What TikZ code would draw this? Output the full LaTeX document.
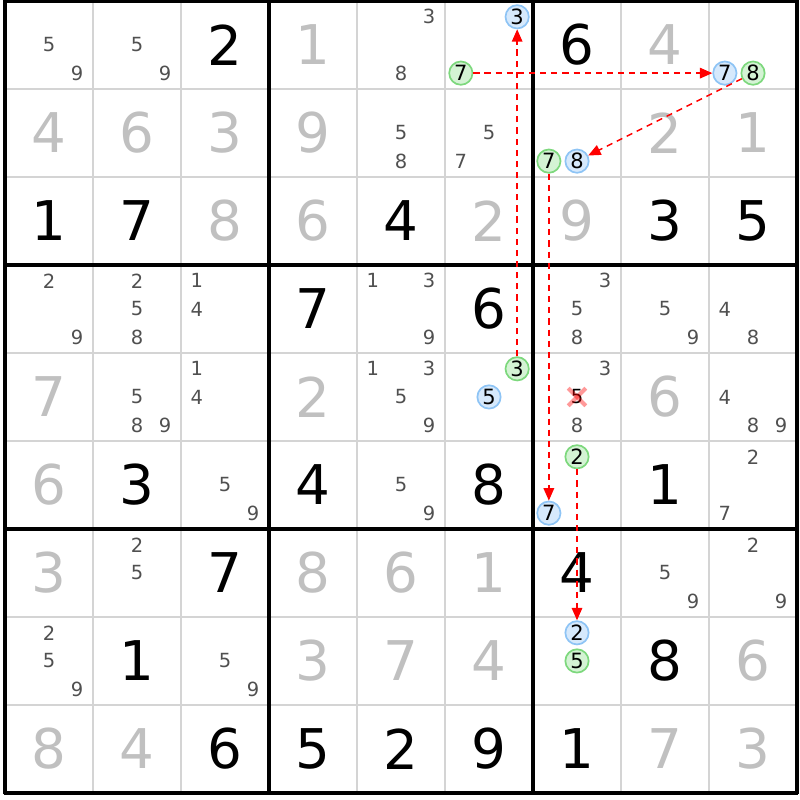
\documentclass[tikz,border=0pt]{standalone}
\usepackage{fontspec}
\setmainfont{DejaVu Sans}
\usetikzlibrary{arrows.meta}
\definecolor{solvedgray}{RGB}{192,192,192}
\definecolor{candgray}{RGB}{80,80,80}
\definecolor{gridgray}{RGB}{212,212,212}
\definecolor{onfill}{RGB}{214,233,252}
\definecolor{ondraw}{RGB}{142,196,245}
\definecolor{offfill}{RGB}{212,243,212}
\definecolor{offdraw}{RGB}{125,216,125}
\tikzset{
	given/.style={font=\fontsize{17.7}{20}\selectfont, text=black, inner sep=0pt},
	solved/.style={given, text=solvedgray},
	cand/.style={font=\fontsize{6.3}{7}\selectfont, text=candgray, inner sep=0pt},
	oncand/.style={circle, draw=ondraw, fill=onfill, line width=0.55pt, minimum size=0.265cm, inner sep=0pt, font=\fontsize{6.8}{7}\selectfont},
	offcand/.style={oncand, draw=offdraw, fill=offfill},
	link/.style={->, red, dash pattern=on 2pt off 1.6pt, line width=0.45pt},
	crossmark/.style={red, opacity=0.4, line width=1.3pt}
}

\begin{document}
\begin{tikzpicture}[>={Triangle[length=4pt,width=3.4pt]}]
	\useasboundingbox (-0.057,-0.08) rectangle (9.034,9.011);
	%Griglia
	\foreach \i in {1,2,4,5,7,8}
	{\draw [gridgray, line width=0.65pt] (\i,0) -- (\i,9);
	 \draw [gridgray, line width=0.65pt] (0,\i) -- (9,\i);}
	\foreach \i in {0,3,6,9}
	{\draw [line width=1.1pt] (\i,-0.015) -- (\i,9.015);
	 \draw [line width=1.1pt] (-0.015,\i) -- (9.015,\i);}
	%Dati
	\foreach \r/\c/\v in {1/3/2, 1/7/6, 3/1/1, 3/2/7, 3/5/4, 3/8/3, 3/9/5, 4/4/7, 4/6/6,
		6/2/3, 6/4/4, 6/6/8, 6/8/1, 7/3/7, 7/7/4, 8/2/1, 8/8/8,
		9/3/6, 9/4/5, 9/5/2, 9/6/9, 9/7/1}
	{\node [given] (g\r\c) at ({\c-0.5},{9.5-\r}) {\v};}
	%Risolti
	\foreach \r/\c/\v in {1/4/1, 1/8/4, 2/1/4, 2/2/6, 2/3/3, 2/4/9, 2/8/2, 2/9/1,
		3/3/8, 3/4/6, 3/6/2, 3/7/9, 5/1/7, 5/4/2, 5/8/6, 6/1/6,
		7/1/3, 7/4/8, 7/5/6, 7/6/1, 8/4/3, 8/5/7, 8/6/4, 8/9/6,
		9/1/8, 9/2/4, 9/8/7, 9/9/3}
	{\node [solved] (g\r\c) at ({\c-0.5},{9.5-\r}) {\v};}
	%Candidati
	\foreach \r/\c/\ds in {1/1/{5,9}, 1/2/{5,9}, 1/5/{3,8}, 2/5/{5,8}, 2/6/{5,7},
		4/1/{2,9}, 4/2/{2,5,8}, 4/3/{1,4}, 4/5/{1,3,9}, 4/7/{3,5,8}, 4/8/{5,9}, 4/9/{4,8},
		5/2/{5,8,9}, 5/3/{1,4}, 5/5/{1,3,5,9}, 5/7/{3,8}, 5/9/{4,8,9},
		6/3/{5,9}, 6/5/{5,9}, 6/9/{2,7}, 7/2/{2,5}, 7/8/{5,9}, 7/9/{2,9},
		8/1/{2,5,9}, 8/3/{5,9}}
	{\foreach \d in \ds
		{\pgfmathtruncatemacro\sx{mod(\d-1,3)-1}
		 \pgfmathtruncatemacro\sy{1-div(\d-1,3)}
		 \node [cand] (k\r\c\d) at ({\c-0.5+0.32*\sx},{9.5-\r+0.32*\sy}) {\d};}}
	%Eliminato
	\node [cand, text=black] (k575) at (6.5,4.5) {5};
	\draw [crossmark] ([shift={(-0.1,-0.1)}]k575.center) -- ([shift={(0.1,0.1)}]k575.center);
	\draw [crossmark] ([shift={(-0.1,0.1)}]k575.center) -- ([shift={(0.1,-0.1)}]k575.center);
	%Catena
	\node [oncand] (k163) at (5.82,8.82) {3};
	\node [offcand] (k167) at (5.18,8.18) {7};
	\node [oncand] (k197) at (8.18,8.18) {7};
	\node [offcand] (k198) at (8.5,8.18) {8};
	\node [offcand] (k277) at (6.18,7.18) {7};
	\node [oncand] (k278) at (6.5,7.18) {8};
	\node [offcand] (k563) at (5.82,4.82) {3};
	\node [oncand] (k565) at (5.5,4.5) {5};
	\node [offcand] (k672) at (6.5,3.82) {2};
	\node [oncand] (k677) at (6.18,3.18) {7};
	\node [oncand] (k872) at (6.5,1.82) {2};
	\node [offcand] (k875) at (6.5,1.5) {5};
	\draw [link] (k563) -- (k163);
	\draw [link] (k167) -- (k197);
	\draw [link] (k198) -- (k278);
	\draw [link] (k277) -- (k677);
	\draw [link] (k672) -- (k872);
\end{tikzpicture}
\end{document}
